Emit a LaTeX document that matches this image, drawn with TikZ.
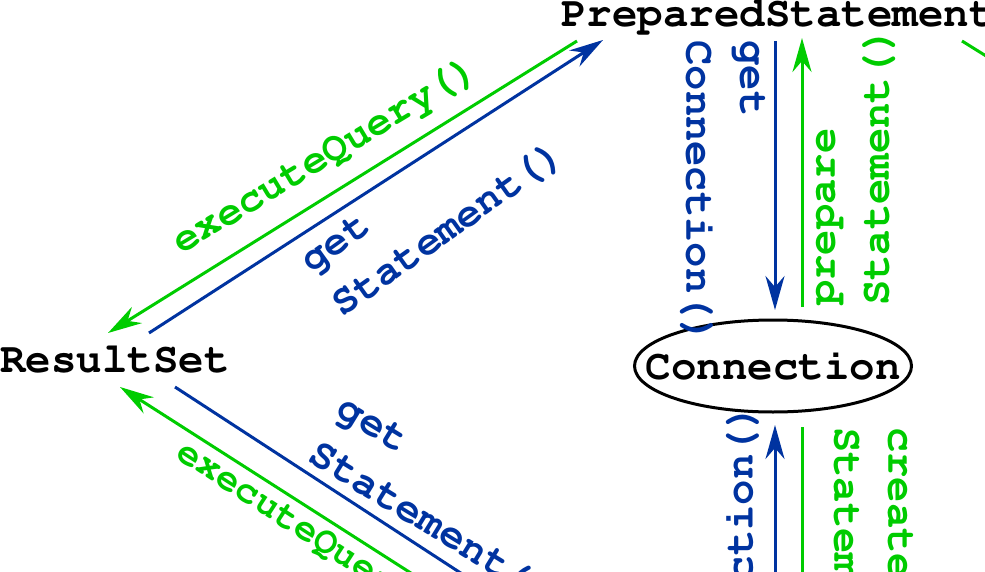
\documentclass[tikz,border=0pt]{standalone}
\usepackage[T1]{fontenc}
\renewcommand\ttdefault{pcr}
\usetikzlibrary{arrows.meta,shapes.geometric,calc}
\definecolor{callgreen}{RGB}{0,204,0}
\definecolor{callblue}{RGB}{0,51,160}
\tikzset{
  codefont/.style={font=\ttfamily\bfseries\fontsize{#1}{54}\selectfont},
  codefont/.default=42.5,
  obj/.style={codefont, inner sep=0pt},
  lbl/.style={codefont=#1, inner sep=0pt, align=left},
  lbl/.default=42.2,
  tip/.style={-{Stealth[length=34pt,width=19pt,inset=11pt]}},
  gline/.style={draw=callgreen, line width=3pt},
  bline/.style={draw=callblue, line width=3pt},
}
\begin{document}
\begin{tikzpicture}[x=1pt,y=-1pt]
\useasboundingbox (0,0) rectangle (985,572);
\clip (0,0) rectangle (985,572);

% objects
\node[obj, anchor=base] (ps) at (778,27) {PreparedStatement};
\node[obj, anchor=base] (rs) at (115,372) {ResultSet};
\node[obj, ellipse, draw, line width=3pt, minimum width=277pt, minimum height=92pt] (conn) at (773,366) {\makebox[0pt]{Connection}};

% far ends of the connectors that leave the page
\coordinate (stmtL) at (775,720);
\coordinate (stmtR) at (802,720);
\coordinate (eqFrom) at (686,749);
\coordinate (gsTo) at (731,749);
\coordinate (psRight) at (1431,333);

% ResultSet <-> PreparedStatement
\draw[gline,tip] ($(ps.base)+(-201,14)$) -- ($(rs.base)+(-7,-39)$);
\draw[bline,tip] ($(rs.base)+(34,-39)$) -- ($(ps.base)+(-175,13)$);

% PreparedStatement <-> Connection
\draw[bline,tip] ($(ps.base)+(-3,14)$) -- ($(conn.center)+(2,-56)$);
\draw[gline,tip] ($(conn.center)+(29,-59)$) -- ($(ps.base)+(24,11)$);

% Connection <-> Statement
\draw[bline,tip] (stmtL) -- ($(conn.center)+(2,59)$);
\draw[gline,tip] ($(conn.center)+(29,61)$) -- (stmtR);

% ResultSet <-> Statement
\draw[gline,tip] (eqFrom) -- ($(rs.base)+(5,15)$);
\draw[bline,tip] ($(rs.base)+(60,15)$) -- (gsTo);

% PreparedStatement, right side
\draw[gline] ($(ps.base)+(184,14)$) -- (psRight);

% method labels
\node[lbl=41.5, text=callgreen, rotate=31] (eqA) at (325.6,156.2) {executeQuery()};
\node[lbl=41.5, text=callblue, rotate=35.5] (gsA) at (433.3,208.7) {get\\Statement()};
\node[lbl, text=callblue, rotate=-90] (gcA) at (723,192.3) {get\\Connection()};
\node[lbl, text=callgreen, rotate=90] (psA) at (854.5,166.4) {prepare\\Statement()};
\node[lbl, text=callblue, rotate=90] (gcB) at (716,555.8) {get\\Connection()};
\node[lbl, text=callgreen, rotate=-90] (csB) at (871,566.5) {create\\Statement()};
\node[lbl, text=callblue, rotate=-31.5] (gsB) at (444.4,502.2) {get\\Statement()};
\node[lbl=38.5, text=callgreen, rotate=-33] (eqB) at (315.6,537.3) {executeQuery()};
\end{tikzpicture}
\end{document}
